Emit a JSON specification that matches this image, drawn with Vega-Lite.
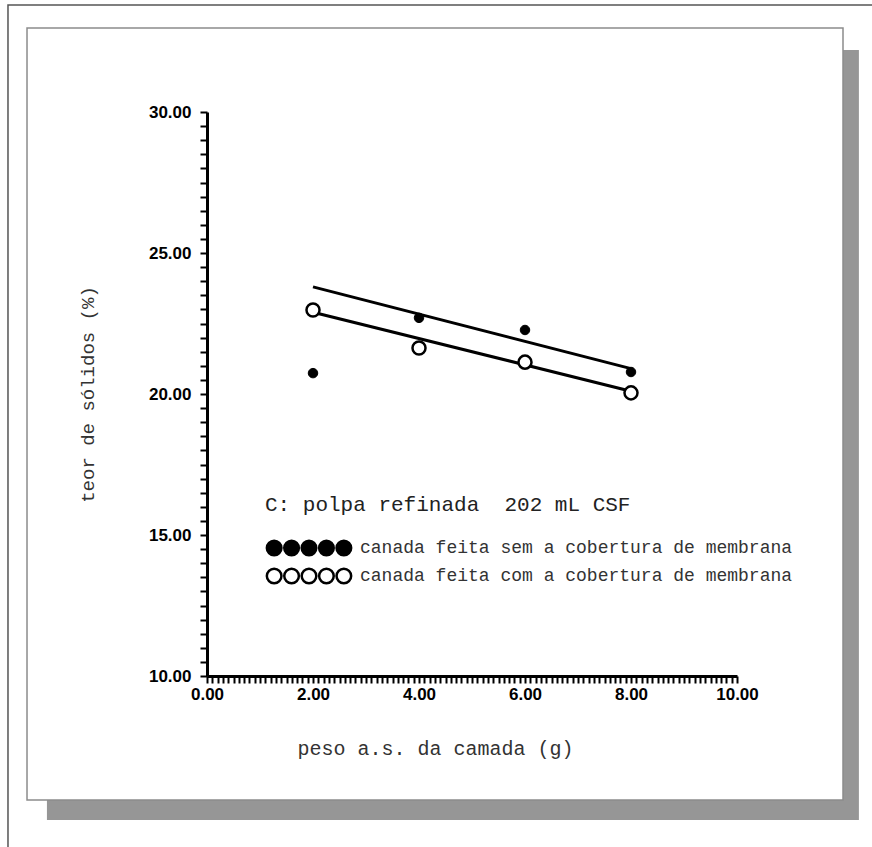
{
  "$schema": "https://vega.github.io/schema/vega-lite/v6.json",
  "width": 530,
  "height": 564,
  "autosize": {"type": "none"},
  "padding": {"left": 207, "top": 112, "right": 135, "bottom": 171},
  "background": "white",
  "datasets": {
    "points": [
      {"peso": 2, "teor": 20.74, "serie": "canada feita sem a cobertura de membrana"},
      {"peso": 4, "teor": 22.7, "serie": "canada feita sem a cobertura de membrana"},
      {"peso": 6, "teor": 22.27, "serie": "canada feita sem a cobertura de membrana"},
      {"peso": 8, "teor": 20.78, "serie": "canada feita sem a cobertura de membrana"},
      {"peso": 2, "teor": 22.98, "serie": "canada feita com a cobertura de membrana"},
      {"peso": 4, "teor": 21.63, "serie": "canada feita com a cobertura de membrana"},
      {"peso": 6, "teor": 21.13, "serie": "canada feita com a cobertura de membrana"},
      {"peso": 8, "teor": 20.04, "serie": "canada feita com a cobertura de membrana"}
    ],
    "lines": [
      {"peso": 2, "teor": 23.8, "serie": "sem"},
      {"peso": 8, "teor": 20.9, "serie": "sem"},
      {"peso": 2, "teor": 22.9, "serie": "com"},
      {"peso": 8, "teor": 20.1, "serie": "com"}
    ]
  },
  "layer": [
    {
      "data": {"values": [{}]},
      "mark": {"type": "rect", "fill": null, "stroke": "#555555", "strokeWidth": 1.5, "clip": false},
      "encoding": {
        "x": {"datum": -3.755, "type": "quantitative", "title": "peso a.s. da camada (g)",
          "scale": {"domain": [0, 10], "nice": false},
          "axis": {"zindex": 2, "tickCount": 100, "labelExpr": "round(datum.value*10) % 20 === 0 ? format(datum.value, '.2f') : ''"}},
        "x2": {"datum": 12.8},
        "y": {"datum": 33.79, "type": "quantitative", "title": "teor de sólidos (%)",
          "scale": {"domain": [10, 30], "nice": false},
          "axis": {"zindex": 2, "tickCount": 40, "labelExpr": "round(datum.value*10) % 50 === 0 ? format(datum.value, '.2f') : ''"}},
        "y2": {"datum": 3.7}
      }
    },
    {
      "data": {"values": [{}]},
      "mark": {"type": "rect", "fill": "#969696", "stroke": null, "clip": false},
      "encoding": {
        "x": {"datum": -3.02, "type": "quantitative", "title": "peso a.s. da camada (g)"},
        "x2": {"datum": 12.3},
        "y": {"datum": 32.2, "type": "quantitative", "title": "teor de sólidos (%)"},
        "y2": {"datum": 4.89}
      }
    },
    {
      "data": {"values": [{}]},
      "mark": {"type": "rect", "fill": "white", "stroke": "#8c8c8c", "strokeWidth": 1.5, "clip": false},
      "encoding": {
        "x": {"datum": -3.396, "type": "quantitative", "title": "peso a.s. da camada (g)"},
        "x2": {"datum": 12.0},
        "y": {"datum": 32.98, "type": "quantitative", "title": "teor de sólidos (%)"},
        "y2": {"datum": 5.6}
      }
    },
    {
      "data": {"name": "lines"},
      "mark": {"type": "line", "color": "black", "strokeWidth": 3},
      "encoding": {
        "x": {"field": "peso", "type": "quantitative", "title": "peso a.s. da camada (g)"},
        "y": {"field": "teor", "type": "quantitative", "title": "teor de sólidos (%)"},
        "detail": {"field": "serie"}
      }
    },
    {
      "data": {"name": "points"},
      "transform": [{"filter": "indexof(datum.serie, 'sem') >= 0"}],
      "mark": {"type": "point", "shape": "circle", "filled": true, "opacity": 1, "size": 90, "stroke": "black", "strokeWidth": 1},
      "encoding": {
        "x": {"field": "peso", "type": "quantitative", "title": "peso a.s. da camada (g)"},
        "y": {"field": "teor", "type": "quantitative", "title": "teor de sólidos (%)"},
        "fill": {"field": "serie", "type": "nominal"}
      }
    },
    {
      "data": {"name": "points"},
      "transform": [{"filter": "indexof(datum.serie, 'com') >= 0"}],
      "mark": {"type": "point", "shape": "circle", "filled": true, "opacity": 1, "size": 170, "stroke": "black", "strokeWidth": 2.5},
      "encoding": {
        "x": {"field": "peso", "type": "quantitative", "title": "peso a.s. da camada (g)"},
        "y": {"field": "teor", "type": "quantitative", "title": "teor de sólidos (%)"},
        "fill": {
          "field": "serie", "type": "nominal",
          "scale": {"domain": ["canada feita sem a cobertura de membrana", "canada feita com a cobertura de membrana"], "range": ["black", "white"]},
          "legend": {
            "title": "C: polpa refinada\u00a0 202 mL CSF",
            "orient": "none",
            "legendX": 58,
            "legendY": 382
          }
        }
      }
    }
  ],
  "config": {
    "view": {"stroke": null},
    "axis": {
      "grid": false,
      "domainColor": "black",
      "domainWidth": 3,
      "tickColor": "black",
      "tickWidth": 2,
      "tickSize": 7,
      "labelFont": "Liberation Sans",
      "labelFontWeight": "bold",
      "labelFontSize": 17,
      "labelColor": "black",
      "labelOverlap": false,
      "labelFlush": false,
      "titleFont": "Liberation Mono",
      "titleFontWeight": "normal",
      "titleColor": "#333333"
    },
    "axisX": {"titleFontSize": 20, "titlePadding": 36, "titleX": 228, "labelPadding": 3},
    "axisY": {"titleFontSize": 19, "titlePadding": 51, "labelPadding": 9},
    "legend": {
      "symbolType": "M -3.24 0 A 0.86 0.86 0 1 1 -4.96 0 A 0.86 0.86 0 1 1 -3.24 0 Z M -1.19 0 A 0.86 0.86 0 1 1 -2.91 0 A 0.86 0.86 0 1 1 -1.19 0 Z M 0.86 0 A 0.86 0.86 0 1 1 -0.86 0 A 0.86 0.86 0 1 1 0.86 0 Z M 2.91 0 A 0.86 0.86 0 1 1 1.19 0 A 0.86 0.86 0 1 1 2.91 0 Z M 4.96 0 A 0.86 0.86 0 1 1 3.24 0 A 0.86 0.86 0 1 1 4.96 0 Z",
      "symbolSize": 289,
      "symbolOffset": 34,
      "symbolOpacity": 1,
      "symbolStrokeColor": "black",
      "symbolStrokeWidth": 2.5,
      "labelFont": "Liberation Mono",
      "labelFontSize": 18,
      "labelColor": "#333333",
      "labelLimit": 0,
      "labelOffset": 41,
      "titleFont": "Liberation Mono",
      "titleFontSize": 21,
      "titleFontWeight": "normal",
      "titleColor": "#222222",
      "titleLimit": 0,
      "titlePadding": 23,
      "rowPadding": 2
    }
  }
}
